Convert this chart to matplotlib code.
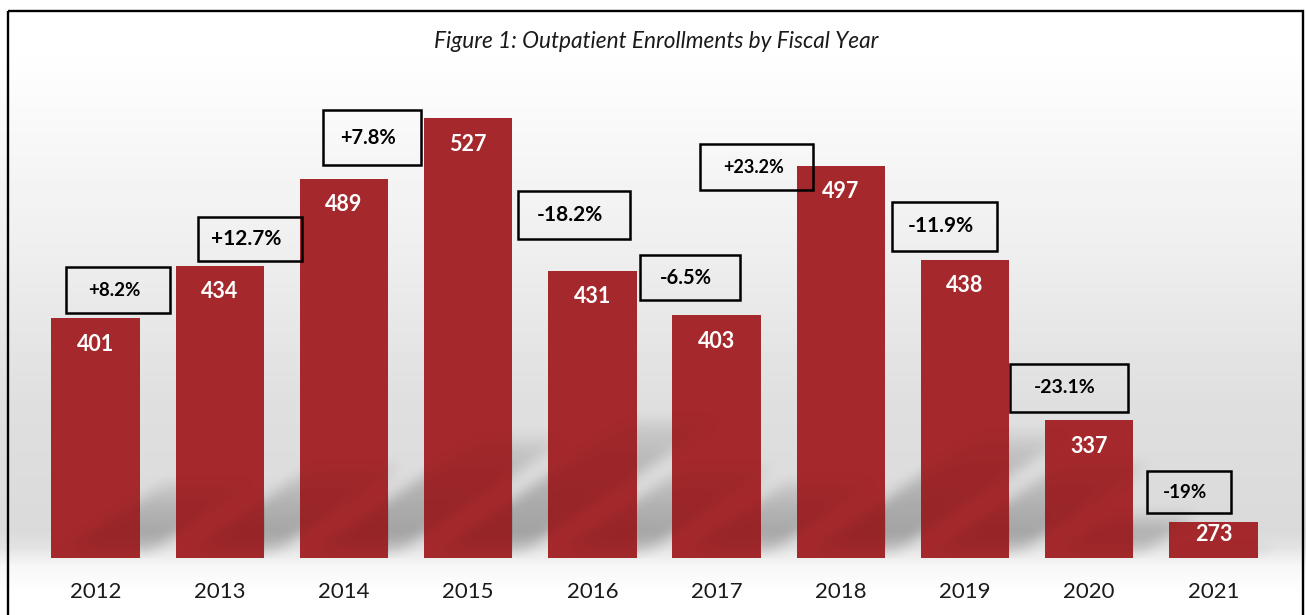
import matplotlib
matplotlib.use('Agg')
import matplotlib.pyplot as plt
from matplotlib.patches import Rectangle
import numpy as np

plt.rcParams['font.family'] = ['Lato', 'DejaVu Sans']

# data
years = ['2012', '2013', '2014', '2015', '2016', '2017', '2018', '2019', '2020', '2021']
enrollments = [401, 434, 489, 527, 431, 403, 497, 438, 337, 273]
pct_labels = ['+8.2%', '+12.7%', '+7.8%', '-18.2%', '-6.5%', '+23.2%', '-11.9%', '-23.1%', '-19%']

# where the change boxes sit: (x centre, y centre, width, height) in data units, font size
box_layout = [
    (0.18, 418.8, 0.84, 28.9, 13.5),
    (1.243, 450.9, 0.84, 27.2, 15),
    (2.225, 514.5, 0.79, 34.6, 14.5),
    (3.852, 466.0, 0.898, 30.6, 15),
    (4.786, 426.7, 0.80, 28.3, 14.5),
    (5.325, 496.2, 0.91, 28.9, 13),
    (6.836, 458.9, 0.848, 31.0, 15),
    (7.837, 357.2, 0.946, 29.8, 14),
    (8.803, 291.7, 0.673, 26.2, 13.5),
]

W, H = 1306, 615
YMIN, YMAX = 250, 560
BAR_W = 0.712
RED = '#a5292c'

fig = plt.figure(figsize=(W / 100, H / 100), dpi=100)

# background: vertical grey gradient inside the black frame
bg = fig.add_axes([0, 0, 1, 1])
rows = np.arange(H)
grey = np.interp(rows, [0, 45, 250, 400, 530, 546, 566, 592, H],
                 [1.0, 1.0, 0.935, 0.875, 0.855, 0.885, 0.97, 0.997, 1.0])
bg.imshow(np.tile(grey[:, None], (1, W)), cmap='gray', vmin=0, vmax=1,
          aspect='auto', extent=(0, W, H, 0), interpolation='nearest')
bg.add_patch(Rectangle((8, 11), 1295, 700, fill=False, edgecolor='black', linewidth=1.7))
bg.set_xlim(0, W)
bg.set_ylim(H, 0)
bg.axis('off')

# main chart
ax = fig.add_axes([33.5 / W, 0.0922, 1242 / W, 0.801])
ax.patch.set_alpha(0)
x = np.arange(len(years))

# soft floor shadows of the bars (row 0 = baseline)
nx, ny = 1242, 493
px_x = 1242 / 10.0
px_y = 493 / (YMAX - YMIN)
cols = np.arange(nx)[None, :]
v = (np.arange(ny) + 0.5)[:, None]
shadow = np.zeros((ny, nx))
for i, val in enumerate(enrollments):
    left = (i + 0.5 - BAR_W / 2) * px_x
    right = left + BAR_W * px_x
    vmax = 0.32 * (val - YMIN) * px_y
    shift = 1.5 * v
    m = (v <= vmax) & (cols >= left + shift) & (cols <= right + shift)
    w = np.clip(v / 20, 0, 1) * np.clip(1 - v / vmax, 0, 1) ** 0.45
    shadow = np.maximum(shadow, m * w)


def box_blur(a, r):
    k = np.ones(2 * r + 1) / (2 * r + 1)
    a = np.apply_along_axis(lambda c: np.convolve(c, k, mode='same'), 0, a)
    return np.apply_along_axis(lambda c: np.convolve(c, k, mode='same'), 1, a)


shadow = box_blur(box_blur(shadow, 7), 7)
floor = np.zeros((ny, nx, 4))
floor[..., 3] = 0.28 * shadow
ax.imshow(floor, extent=(-0.5, 9.5, YMIN, YMAX), origin='lower', aspect='auto',
          interpolation='bilinear', zorder=0)

bars = ax.bar(x, np.array(enrollments) - YMIN, bottom=YMIN, width=BAR_W, color=RED, zorder=2)

# faint darkening of the bars where the neighbour's shadow falls
on_bar = np.zeros((ny, nx, 4))
on_bar[..., 3] = 0.10 * shadow
for rect in bars:
    im = ax.imshow(on_bar, extent=(-0.5, 9.5, YMIN, YMAX), origin='lower', aspect='auto',
                   interpolation='bilinear', zorder=2.5)
    im.set_clip_path(rect)

for i, val in enumerate(enrollments):
    bar_px = (val - YMIN) * px_y
    off = min(26, 0.35 * bar_px) * 0.72
    ax.annotate(str(val), xy=(i, val), xytext=(0, -off), textcoords='offset points',
                ha='center', va='center', color='white', fontsize=15.5, fontweight='bold', zorder=3)

for label, (xc, yc, bw, bh, fs) in zip(pct_labels, box_layout):
    ax.add_patch(Rectangle((xc - bw / 2, yc - bh / 2), bw, bh, fill=False,
                           edgecolor='black', linewidth=1.8, zorder=4))
    ax.text(xc - 0.03, yc, label, ha='center', va='center', fontsize=fs,
            fontweight='bold', color='black', zorder=5)

ax.set_xlim(-0.5, 9.5)
ax.set_ylim(YMIN, YMAX)
ax.set_xticks(x)
ax.set_xticklabels(years, fontsize=16, color='#1a1a1a')
ax.tick_params(axis='x', length=0, pad=17)
ax.set_yticks([])
for s in ax.spines.values():
    s.set_visible(False)

fig.text(656 / W, 1 - 41 / H, 'Figure 1: Outpatient Enrollments by Fiscal Year',
         ha='center', va='center', fontsize=16.3, fontstyle='italic', color='#1a1a1a')

fig.savefig('out.png', dpi=100)
